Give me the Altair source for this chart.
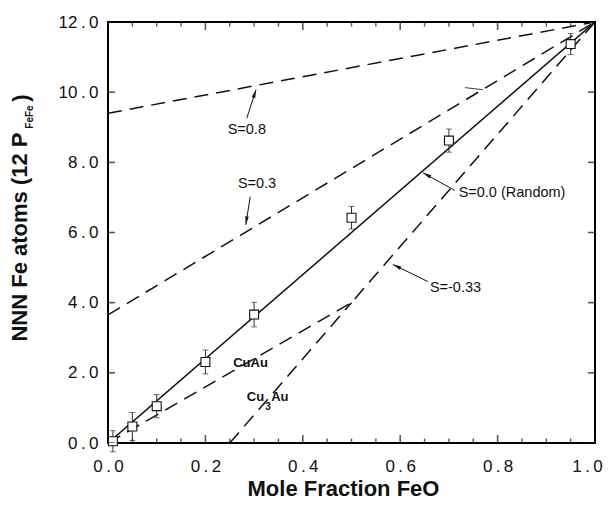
import altair as alt
import pandas as pd

# ---------------- data ----------------
# model curves (x = mole fraction FeO, y = NNN Fe atoms)
s08_x = [0.0, 1.0]
s08_y = [9.4, 12.0]
s03_x = [0.0, 1.0]
s03_y = [3.65, 12.0]
rand_x = [0.0, 1.0]
rand_y = [0.0, 12.0]
cuau_x = [0.0, 0.5, 1.0]
cuau_y = [0.0, 4.0, 12.0]
cu3au_x = [0.25, 0.5]
cu3au_y = [0.0, 4.0]
stray_x = [0.733, 0.77]
stray_y = [10.13, 10.07]

# measured points with error bars
pt_x = [0.01, 0.05, 0.10, 0.20, 0.30, 0.50, 0.70, 0.95]
pt_y = [0.05, 0.47, 1.05, 2.31, 3.66, 6.42, 8.62, 11.37]
pt_err = [0.30, 0.40, 0.33, 0.34, 0.35, 0.32, 0.33, 0.30]

# ticks
x_major = [0.0, 0.2, 0.4, 0.6, 0.8, 1.0]
x_minor = [0.05, 0.1, 0.15, 0.25, 0.3, 0.35, 0.45, 0.5, 0.55,
           0.65, 0.7, 0.75, 0.85, 0.9, 0.95]
y_major = [0, 2, 4, 6, 8, 10, 12]

# annotations
lab_c_text = ["S=0.8", "S=0.3"]
lab_c_x = [0.285, 0.306]
lab_c_y = [8.92, 7.37]
lab_l_text = ["S=0.0 (Random)", "S=-0.33"]
lab_l_x = [0.72, 0.661]
lab_l_y = [7.14, 4.43]
arr_x0 = [0.285, 0.292, 0.712, 0.657]
arr_y0 = [9.26, 7.02, 7.20, 4.60]
arr_x1 = [0.304, 0.283, 0.647, 0.585]
arr_y1 = [10.07, 6.22, 7.70, 5.09]
arr_ang = [18, 188, 299, 296]

FONT = "Liberation Sans"
INK = "#111111"

# ---------------- tables ----------------
dashed = pd.concat([
    pd.DataFrame({"x": s08_x, "y": s08_y, "s": "S=0.8"}),
    pd.DataFrame({"x": s03_x, "y": s03_y, "s": "S=0.3"}),
    pd.DataFrame({"x": cuau_x, "y": cuau_y, "s": "CuAu"}),
    pd.DataFrame({"x": cu3au_x, "y": cu3au_y, "s": "Cu3Au"}),
])
solid = pd.DataFrame({"x": rand_x, "y": rand_y})
stray = pd.DataFrame({"x": stray_x, "y": stray_y})
pts = pd.DataFrame({"x": pt_x, "y": pt_y, "err": pt_err})

bt_major = pd.DataFrame({"x": x_major * 2, "y": [0] * len(x_major) + [12] * len(x_major)})
bt_minor = pd.DataFrame({"x": x_minor * 2, "y": [0] * len(x_minor) + [12] * len(x_minor)})
lr_major = pd.DataFrame({"x": [0.0] * len(y_major) + [1.0] * len(y_major), "y": y_major * 2})

arrows = pd.DataFrame({"x": arr_x0, "y": arr_y0, "x2": arr_x1, "y2": arr_y1})
heads = pd.DataFrame({"x": arr_x1, "y": arr_y1, "ang": arr_ang})
lab_c = pd.DataFrame({"x": lab_c_x, "y": lab_c_y, "t": lab_c_text})
lab_l = pd.DataFrame({"x": lab_l_x, "y": lab_l_y, "t": lab_l_text})
cu = pd.DataFrame({"x": [0.257, 0.285, 0.335], "y": [2.29, 1.30, 1.30], "t": ["CuAu", "Cu", "Au"]})
sub3 = pd.DataFrame({"x": [0.323], "y": [1.02], "t": ["3"]})

# ---------------- encodings ----------------
lblx = "replace(datum.label, '.', '\u2009.\u2009')"
xscale = alt.Scale(domain=[0, 1], nice=False, zero=False)
yscale = alt.Scale(domain=[0, 12], nice=False, zero=False)
xaxis = alt.Axis(values=x_major, format=".1f", labelExpr=lblx, ticks=False, tickSize=0,
                 domain=False, grid=False, labelPadding=15, labelFontSize=17,
                 labelFont=FONT, labelColor=INK, labelFlush=False, labelOverlap=False,
                 labelOffset={"condition": {"test": "datum.value >= 1", "value": -8}, "value": 0},
                 title="Mole Fraction FeO", titleFont=FONT, titleFontSize=22,
                 titleFontWeight="bold", titleColor=INK, titleY=52, titleX=235,
                 titleAlign="center", titleBaseline="alphabetic")
yaxis = alt.Axis(values=y_major, format=".1f", labelExpr=lblx, ticks=False, tickSize=0,
                 domain=False, grid=False, labelPadding=10, labelFontSize=17,
                 labelFont=FONT, labelColor=INK, labelFlush=False, labelOverlap=False,
                 title="NNN Fe atoms (12 P", titleFont=FONT, titleFontSize=22,
                 titleFontWeight="bold", titleColor=INK, titleAngle=270, titleAlign="right",
                 titleBaseline="middle", titleX=-89, titleY=110)
X = alt.X("x:Q", scale=xscale, axis=xaxis)
Y = alt.Y("y:Q", scale=yscale, axis=yaxis)

# ---------------- layers ----------------
l_dashed = alt.Chart(dashed).mark_line(color=INK, strokeWidth=1.5, strokeDash=[14, 8], clip=True).encode(
    x=X, y=Y, detail="s:N")
l_solid = alt.Chart(solid).mark_line(color=INK, strokeWidth=1.5, clip=True).encode(x=X, y=Y)
l_stray = alt.Chart(stray).mark_line(color=INK, strokeWidth=0.8).encode(x=X, y=Y)
l_err = alt.Chart(pts).mark_errorbar(ticks=True, size=6, thickness=1, color="#333333").encode(
    x=X, y=Y, yError="err:Q")
l_pts = alt.Chart(pts).mark_point(shape="square", size=80, filled=True, fill="white",
                                  stroke=INK, strokeWidth=1.1, opacity=1).encode(x=X, y=Y)

t_maj = alt.Chart(bt_major).mark_tick(orient="vertical", size=16, thickness=1.6, color=INK, clip=True).encode(x=X, y=Y)
t_min = alt.Chart(bt_minor).mark_tick(orient="vertical", size=9, thickness=1.4, color=INK, clip=True).encode(x=X, y=Y)
t_y = alt.Chart(lr_major).mark_tick(orient="horizontal", size=14, thickness=1.6, color=INK, clip=True).encode(x=X, y=Y)

l_arr = alt.Chart(arrows).mark_rule(color=INK, strokeWidth=1).encode(x=X, y=Y, x2="x2:Q", y2="y2:Q")
l_head = alt.Chart(heads).mark_point(shape="M0,0L0.35,1.6L-0.35,1.6Z", size=110, filled=True,
                                     color=INK, opacity=1).encode(
    x=X, y=Y, angle=alt.Angle("ang:Q", scale=None))
l_lc = alt.Chart(lab_c).mark_text(font=FONT, fontSize=14.5, color=INK, align="center",
                                  baseline="middle").encode(x=X, y=Y, text="t:N")
l_ll = alt.Chart(lab_l).mark_text(font=FONT, fontSize=14.5, color=INK, align="left",
                                  baseline="middle").encode(x=X, y=Y, text="t:N")
l_cu = alt.Chart(cu).mark_text(font=FONT, fontSize=13, fontWeight="bold", color=INK, align="left",
                               baseline="middle").encode(x=X, y=Y, text="t:N")
l_3 = alt.Chart(sub3).mark_text(font=FONT, fontSize=10, fontWeight="bold", color=INK, align="left",
                                baseline="middle").encode(x=X, y=Y, text="t:N")

# y-title subscript and closing parenthesis
l_sub = alt.Chart(pd.DataFrame({"t": ["FeFe"]})).mark_text(
    font=FONT, fontSize=10, fontWeight="bold", color=INK, angle=270, align="center",
    baseline="middle").encode(x=alt.value(-78), y=alt.value(95), text="t:N")
l_par = alt.Chart(pd.DataFrame({"t": [")"]})).mark_text(
    font=FONT, fontSize=22, fontWeight="bold", color=INK, angle=270, align="center",
    baseline="middle").encode(x=alt.value(-87), y=alt.value(76), text="t:N")

chart = alt.layer(
    l_dashed, l_solid, l_stray, l_err, l_pts, t_maj, t_min, t_y,
    l_arr, l_head, l_lc, l_ll, l_cu, l_3, l_sub, l_par
).properties(
    width=487, height=421,
    padding={"left": 100, "top": 14, "right": 8, "bottom": 56},
    autosize=alt.AutoSizeParams(type="none"),
    background="white",
).configure(font=FONT).configure_view(stroke="black", strokeWidth=2)

chart.save("out.html", embed_options={"renderer": "svg", "actions": False})
